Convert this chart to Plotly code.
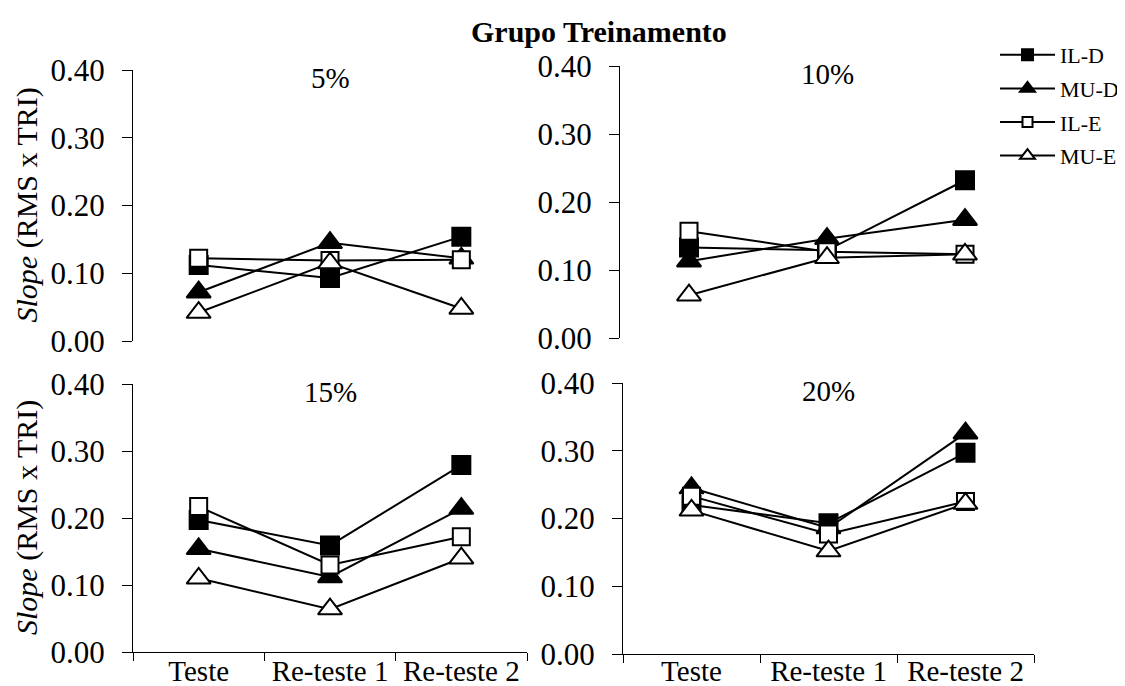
import plotly.graph_objects as go

categories = ["Teste", "Re-teste 1", "Re-teste 2"]
panel_titles = ["5%", "10%", "15%", "20%"]
series_names = ["IL-D", "MU-D", "IL-E", "MU-E"]

# values per panel: [IL-D, MU-D, IL-E, MU-E]
p5_il_d = [0.112, 0.093, 0.154]
p5_mu_d = [0.072, 0.145, 0.122]
p5_il_e = [0.122, 0.119, 0.120]
p5_mu_e = [0.042, 0.115, 0.048]

p10_il_d = [0.133, 0.129, 0.232]
p10_mu_d = [0.113, 0.146, 0.174]
p10_il_e = [0.157, 0.127, 0.123]
p10_mu_e = [0.063, 0.118, 0.123]

p15_il_d = [0.197, 0.159, 0.279]
p15_mu_d = [0.154, 0.112, 0.214]
p15_il_e = [0.217, 0.130, 0.172]
p15_mu_e = [0.110, 0.064, 0.140]

p20_il_d = [0.220, 0.193, 0.297]
p20_mu_d = [0.245, 0.186, 0.326]
p20_il_e = [0.233, 0.177, 0.225]
p20_mu_e = [0.212, 0.152, 0.222]

panels = [
    [p5_il_d, p5_mu_d, p5_il_e, p5_mu_e],
    [p10_il_d, p10_mu_d, p10_il_e, p10_mu_e],
    [p15_il_d, p15_mu_d, p15_il_e, p15_mu_e],
    [p20_il_d, p20_mu_d, p20_il_e, p20_mu_e],
]

FONT = "Liberation Serif, Times New Roman, serif"
W, H = 1125, 686
OFF = 8  # page body margin

styles = [
    dict(symbol="square", color="black", size=18),
    dict(symbol="triangle-up", color="black", size=21),
    dict(symbol="square", color="white", size=17),
    dict(symbol="triangle-up", color="white", size=21),
]

# pixel boxes in screen coords [x0, x1, ytop, ybottom]
boxes = [
    (133, 527, 70, 341),
    (620, 1034, 66, 338),
    (133, 527, 384, 652),
    (623, 1034, 383, 654),
]
label_standoff = [-7, -7, -7, -9]


def fx(px):
    return (px - OFF) / W


def fy(py):
    return 1 - (py - OFF) / H


fig = go.Figure()
layout = dict(
    width=W, height=H, autosize=False,
    margin=dict(l=0, r=0, t=0, b=0, pad=0),
    paper_bgcolor="white", plot_bgcolor="white",
    font=dict(family=FONT, color="black"),
    showlegend=True,
)
annotations = []

for i, (vals, box) in enumerate(zip(panels, boxes)):
    n = "" if i == 0 else str(i + 1)
    xa, ya = "x" + n, "y" + n
    for j, v in enumerate(vals):
        st = styles[j]
        fig.add_trace(go.Scatter(
            x=categories, y=v, xaxis=xa, yaxis=ya, mode="lines+markers",
            name=series_names[j], showlegend=False,
            line=dict(color="black", width=2),
            marker=dict(symbol=st["symbol"], size=st["size"], color=st["color"],
                        line=dict(color="black", width=2)),
        ))
    x0, x1, yt, yb = box
    bottom = i >= 2
    layout["xaxis" + n] = dict(
        domain=[fx(x0), fx(x1)], anchor=ya, type="category", automargin=False,
        range=[-0.5, 2.5], showgrid=False, zeroline=False,
        showline=bottom, linecolor="black", linewidth=1,
        ticks="outside" if bottom else "", tickson="boundaries",
        ticklen=8, tickcolor="black", tickwidth=1,
        ticklabelstandoff=label_standoff[i],
        showticklabels=bottom, tickfont=dict(family=FONT, size=29, color="black"),
    )
    layout["yaxis" + n] = dict(
        domain=[fy(yb), fy(yt)], anchor=xa, automargin=False,
        range=[0, 0.4], dtick=0.1, tickformat=".2f",
        showgrid=False, zeroline=False, showline=True,
        linecolor="black", linewidth=1, ticks="outside", ticklen=10,
        tickcolor="black", tickwidth=1, ticklabelstandoff=11,
        tickfont=dict(family=FONT, size=31, color="black"),
    )
    annotations.append(dict(
        text=panel_titles[i], xref=xa + " domain", yref="paper",
        x=0.5, y=fy(yt + 8), showarrow=False, yanchor="middle",
        font=dict(family=FONT, size=29, color="black"),
    ))
    if i % 2 == 0:
        annotations.append(dict(
            text="<i>Slope</i> (RMS x TRI)", xref="paper", yref=ya + " domain",
            x=fx(27), y=0.5, textangle=-90, showarrow=False,
            xanchor="center", yanchor="middle",
            font=dict(family=FONT, size=30, color="black"),
        ))

# legend-only traces (smaller markers as in reference)
leg_sizes = [11, 13, 10, 13]
for j in range(4):
    st = styles[j]
    fig.add_trace(go.Scatter(
        x=[None], y=[None], mode="lines+markers", name=series_names[j],
        legendgroup=series_names[j], showlegend=True,
        line=dict(color="black", width=2),
        marker=dict(symbol=st["symbol"], size=leg_sizes[j], color=st["color"],
                    line=dict(color="black", width=2)),
    ))

annotations.append(dict(
    text="<b>Grupo Treinamento</b>", xref="paper", yref="paper",
    x=fx(599), y=fy(31), showarrow=False, xanchor="center", yanchor="middle",
    font=dict(family=FONT, size=30, color="black"),
))

layout["annotations"] = annotations
layout["legend"] = dict(
    x=fx(995), y=fy(34), xanchor="left", yanchor="top",
    font=dict(family=FONT, size=22, color="black"),
    bgcolor="rgba(0,0,0,0)", tracegroupgap=2, itemwidth=55,
)
fig.update_layout(**layout)
fig.write_html("out.html")
